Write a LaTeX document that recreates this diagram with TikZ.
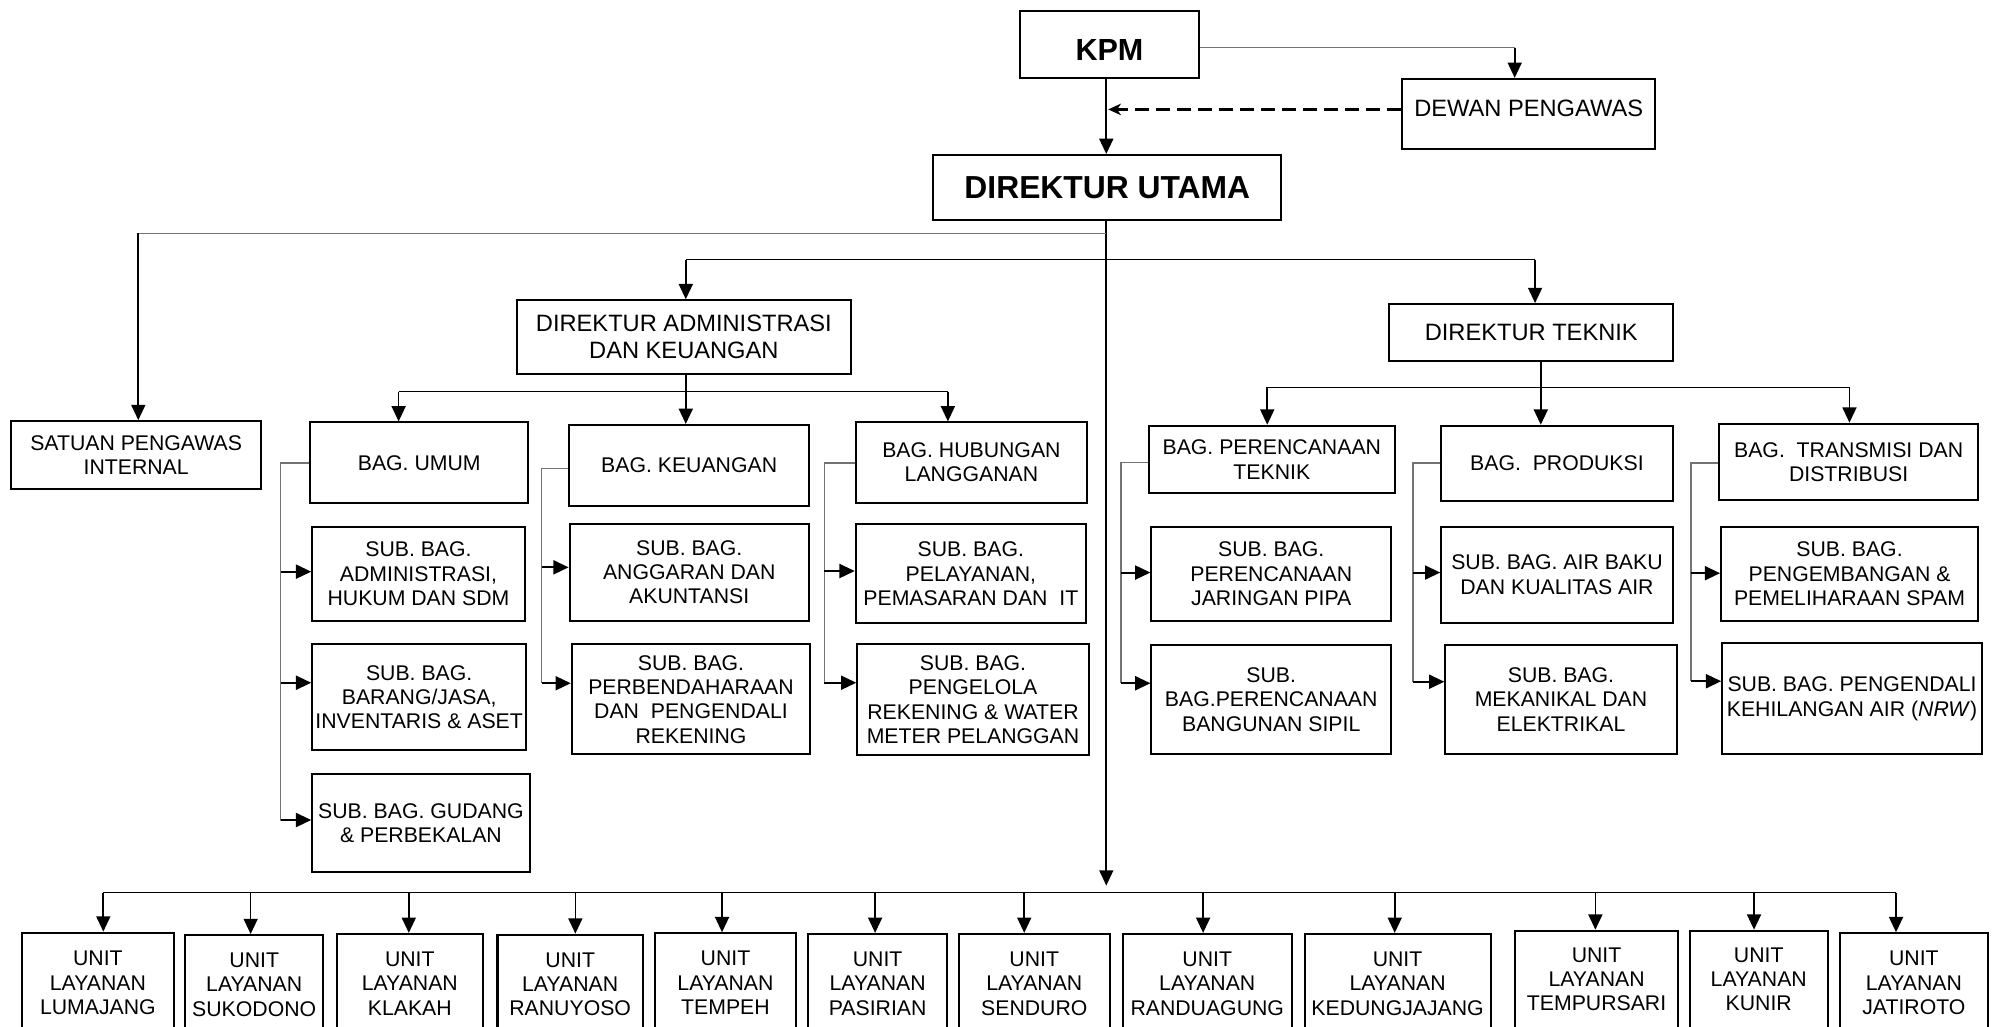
\documentclass[tikz,border=0pt]{standalone}
\usepackage{fontspec}
\setmainfont{Liberation Sans}
\usetikzlibrary{arrows.meta}
\newcommand\fN{\fontsize{16.7}{19.1}\selectfont}
\newcommand\fD{\fontsize{18.6}{21}\selectfont}
\newcommand\fB{\fontsize{25}{28}\selectfont\bfseries}
\newcommand\mkbox[7]{%
  \node[box,font=#6,minimum width={(#4-#2)*1pt},minimum height={(#5-#3)*1pt}] (#1) at ({(#2+#4)/2},{(#3+#5)/2}) {#7};}
% bracket: parent, x, y stub, y end
\newcommand\mkbracket[4]{%
  \draw[gline] (#1.west |- 0,#3) -- (#2,#3) -- (#2,#4);}
% side arrow: x, y, child
\newcommand\mkside[3]{%
  \draw[harr] (#1,#2) -- (#3.west |- 0,#2);}
\begin{document}
\begin{tikzpicture}[x=1pt,y=-1pt,
  box/.style={draw,line width=1.6pt,inner sep=0pt,align=center},
  arr/.style={line width=1.3pt,-{Triangle[width=11pt,length=12pt]}},
  harr/.style={line width=1.6pt,-{Triangle[width=11pt,length=12pt]}},
  gline/.style={line width=1pt,draw=black!55},
  cline/.style={line width=1pt,draw=black},
  dsh/.style={line width=2.2pt,dash pattern=on 11pt off 5.5pt,-{Stealth[length=10pt,width=9pt,inset=3pt]}}]
\useasboundingbox (0,0) rectangle (1568,806.4);
% ---------- top ----------
\mkbox{kpm}{802}{8.6}{942}{61}{\fontsize{24}{27}\selectfont\bfseries}{\raisebox{-4.6pt}[\height][\depth]{KPM}}
\mkbox{dewan}{1102}{62}{1301}{117.4}{\fD}{\raisebox{4.7pt}[\height][\depth]{DEWAN PENGAWAS}}
\mkbox{du}{733.6}{121.8}{1007}{173}{\fB}{DIREKTUR UTAMA}
\mkbox{spi}{9}{331}{205}{384}{\fN}{SATUAN PENGAWAS\\INTERNAL}
\mkbox{dak}{406}{236}{669}{294}{\fD}{DIREKTUR ADMINISTRASI\\DAN KEUANGAN}
\mkbox{dt}{1092}{239}{1315}{284}{\fD}{DIREKTUR TEKNIK}
% ---------- admin ----------
\mkbox{umum}{244}{332}{415}{395.6}{\fN}{BAG. UMUM}
\mkbox{keu}{447.3}{334}{636}{397.5}{\fN}{BAG. KEUANGAN}
\mkbox{hub}{673}{332}{854}{395}{\fN}{BAG. HUBUNGAN\\LANGGANAN}
\mkbox{sadm}{245.4}{414}{412.4}{487.8}{\fN}{SUB. BAG.\\ADMINISTRASI,\\HUKUM DAN SDM}
\mkbox{sbar}{245.4}{506.2}{413.5}{589.5}{\fN}{SUB. BAG.\\BARANG/JASA,\\INVENTARIS \& ASET}
\mkbox{sgud}{245.4}{608.4}{416.3}{685.1}{\fN}{SUB. BAG. GUDANG\\\& PERBEKALAN}
\mkbox{sang}{447.7}{411.9}{635.7}{487.8}{\fN}{SUB. BAG.\\ANGGARAN DAN\\AKUNTANSI}
\mkbox{sper}{449.4}{506.4}{636.8}{592.9}{\fN}{SUB. BAG.\\PERBENDAHARAAN\\DAN~~PENGENDALI\\REKENING}
\mkbox{spel}{672.6}{412.1}{853.5}{489.9}{\fN}{SUB. BAG.\\PELAYANAN,\\PEMASARAN DAN~~IT}
\mkbox{speng}{673.8}{506.4}{855.7}{593.4}{\fN}{SUB. BAG.\\PENGELOLA\\REKENING \& WATER\\METER PELANGGAN}
% ---------- teknik ----------
\mkbox{bpt}{902.7}{334.6}{1096.5}{387.7}{\fN}{BAG. PERENCANAAN\\TEKNIK}
\mkbox{bprod}{1132.8}{334.6}{1314.6}{393.5}{\fN}{BAG.~~PRODUKSI}
\mkbox{btd}{1351.3}{333}{1554.6}{393}{\fN}{BAG.~~TRANSMISI DAN\\DISTRIBUSI}
\mkbox{sjar}{905}{414}{1093.3}{487.8}{\fN}{SUB. BAG.\\PERENCANAAN\\JARINGAN PIPA}
\mkbox{sbang}{905}{507}{1093.3}{592.6}{\fN}{SUB.\\BAG.PERENCANAAN\\BANGUNAN SIPIL}
\mkbox{sair}{1132.8}{414}{1314.6}{489.4}{\fN}{SUB. BAG. AIR BAKU\\DAN KUALITAS AIR}
\mkbox{smek}{1136}{507}{1317.7}{592.6}{\fN}{SUB. BAG.\\MEKANIKAL DAN\\ELEKTRIKAL}
\mkbox{spem}{1352.7}{414}{1554.6}{488}{\fN}{SUB. BAG.\\PENGEMBANGAN \&\\PEMELIHARAAN SPAM}
\mkbox{spkh}{1353.6}{505.6}{1557.7}{592.6}{\fN}{SUB. BAG. PENGENDALI\\KEHILANGAN AIR (\textit{NRW})}
% ---------- units ----------
\mkbox{u1}{17.5}{733}{136.4}{812}{\fN}{UNIT\\LAYANAN\\LUMAJANG}
\mkbox{u2}{145.4}{734.9}{254.2}{813}{\fN}{UNIT\\LAYANAN\\SUKODONO}
\mkbox{u3}{264.7}{734}{379.5}{812}{\fN}{UNIT\\LAYANAN\\KLAKAH}
\mkbox{u4}{391}{734.6}{505.3}{812.5}{\fN}{UNIT\\LAYANAN\\RANUYOSO}
\mkbox{u5}{514.8}{733.5}{625.6}{811.5}{\fN}{UNIT\\LAYANAN\\TEMPEH}
\mkbox{u6}{635.2}{734}{744.4}{812}{\fN}{UNIT\\LAYANAN\\PASIRIAN}
\mkbox{u7}{753.5}{734}{872.3}{812}{\fN}{UNIT\\LAYANAN\\SENDURO}
\mkbox{u8}{882.3}{734}{1015.4}{812}{\fN}{UNIT\\LAYANAN\\RANDUAGUNG}
\mkbox{u9}{1025.4}{734}{1171.5}{812}{\fN}{UNIT\\LAYANAN\\KEDUNGJAJANG}
\mkbox{u10}{1191}{731.5}{1318.7}{808}{\fN}{UNIT\\LAYANAN\\TEMPURSARI}
\mkbox{u11}{1328.2}{731.5}{1436.4}{808}{\fN}{UNIT\\LAYANAN\\KUNIR}
\mkbox{u12}{1445.9}{733.5}{1562.6}{811.5}{\fN}{UNIT\\LAYANAN\\JATIROTO}
% ---------- connectors: top ----------
\coordinate (kd) at (1190.5,37.5);
\draw[gline] (kpm.east |- kd) -- (kd);
\draw[arr] (kd) -- (kd |- dewan.north);
\coordinate (tr) at (869.5,0);
\draw[arr] (kpm.south -| tr) -- (du.north -| tr);
\coordinate (dsp) at (871,86);
\draw[dsh] (dewan.west |- dsp) -- (dsp);
\coordinate (tend) at (869.5,696);
\draw[arr] (du.south -| tr) -- (tend);
\coordinate (spiJ) at (869.5,183.4);
\coordinate (spiA) at (108.7,183.4);
\draw[gline] (spiJ) -- (spiA);
\draw[arr] (spiA) -- (spiA |- spi.north);
\coordinate (dirL) at (539,204);
\coordinate (dirR) at (1206.5,204);
\draw[cline] (dirL) -- (dirR);
\draw[arr] (dirL) -- (dirL |- dak.north);
\draw[arr] (dirR) -- (dirR |- dt.north);
% ---------- admin branch ----------
\coordinate (akL) at (313.3,307.8);
\coordinate (akM) at (539,307.8);
\coordinate (akR) at (745,307.8);
\draw[cline] (akL) -- (akR);
\draw[arr] (dak.south -| akM) -- (akM |- keu.north);
\draw[arr] (akL) -- (akL |- umum.north);
\draw[arr] (akR) -- (akR |- hub.north);
% ---------- teknik branch ----------
\coordinate (tkL) at (996,304.4);
\coordinate (tkM) at (1211,304.4);
\coordinate (tkR) at (1453.6,304.4);
\draw[cline] (tkL) -- (tkR);
\draw[arr] (dt.south -| tkM) -- (tkM |- bprod.north);
\draw[arr] (tkL) -- (tkL |- bpt.north);
\draw[arr] (tkR) -- (tkR |- btd.north);
% ---------- brackets ----------
\mkbracket{umum}{220.5}{364}{645}
\mkside{220.5}{449.3}{sadm}
\mkside{220.5}{536.6}{sbar}
\mkside{220.5}{644.5}{sgud}
\mkbracket{keu}{425.7}{368}{537}
\mkside{425.7}{445.9}{sang}
\mkside{425.7}{537}{sper}
\mkbracket{hub}{647.9}{364}{536.6}
\mkside{647.9}{448.8}{spel}
\mkside{647.9}{536.6}{speng}
\mkbracket{bpt}{881}{363.7}{537}
\mkside{881}{450}{sjar}
\mkside{881}{537}{sbang}
\mkbracket{bprod}{1110.5}{364}{535.8}
\mkside{1110.5}{450}{sair}
\mkside{1110.5}{535.8}{smek}
\mkbracket{btd}{1329}{364}{535.4}
\mkside{1329}{450.5}{spem}
\mkside{1329}{535.4}{spkh}
% ---------- units bus ----------
\coordinate (busL) at (81.2,701.6);
\coordinate (busR) at (1490.2,701.6);
\draw[cline] (busL) -- (busR);
\foreach \n/\x in {u1/81.2,u2/197,u3/321.3,u4/452.2,u5/567.5,u6/687.8,u7/805,u8/945.6,u9/1096.2,u10/1253.9,u11/1378.6,u12/1490.2}
  \draw[arr] (\x,701.6) -- (\n.north -| \x,0);
\end{tikzpicture}
\end{document}
